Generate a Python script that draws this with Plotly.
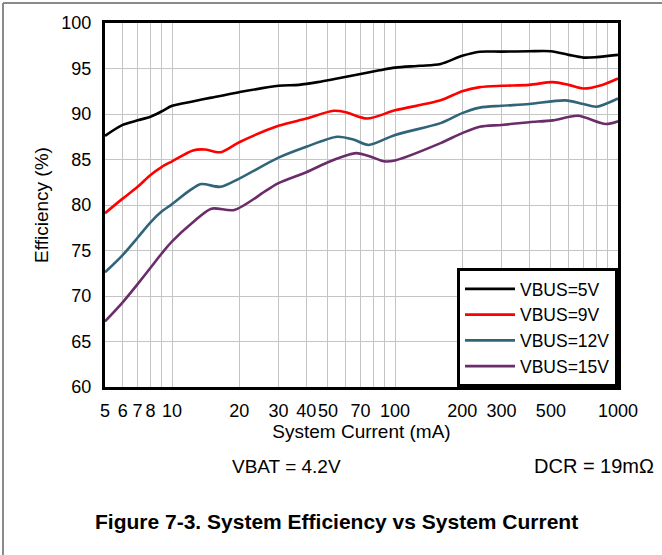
import plotly.graph_objects as go

# ---- data ----
x_5v = [5, 6, 7, 8, 9, 10, 12.5, 15, 20, 30, 37, 45, 55, 70, 85, 100, 130, 160, 200, 240, 300, 400, 500, 600, 700, 800, 1000]
eff_5v = [87.6, 88.8, 89.3, 89.7, 90.3, 90.9, 91.4, 91.8, 92.4, 93.1, 93.2, 93.5, 93.9, 94.4, 94.8, 95.1, 95.3, 95.5, 96.4, 96.85, 96.85, 96.9, 96.9, 96.5, 96.2, 96.25, 96.5]

x_9v = [5, 6, 7, 8, 9, 10, 12.4, 14, 16.5, 20, 30, 40, 53, 60, 75, 100, 160, 200, 240, 300, 400, 510, 600, 700, 850, 1000]
eff_9v = [79.1, 80.7, 82.0, 83.3, 84.2, 84.8, 86.0, 86.1, 85.8, 86.9, 88.7, 89.5, 90.35, 90.2, 89.5, 90.4, 91.5, 92.5, 92.95, 93.1, 93.2, 93.5, 93.2, 92.8, 93.2, 93.9]

x_12v = [5, 6, 7, 8, 9, 10, 12, 13.5, 16.5, 20, 30, 40, 55, 65, 76, 100, 160, 200, 240, 300, 400, 580, 700, 800, 1000]
eff_12v = [72.6, 74.5, 76.4, 78.1, 79.3, 80.1, 81.6, 82.3, 82.0, 82.9, 85.2, 86.4, 87.5, 87.2, 86.6, 87.7, 89.0, 90.1, 90.7, 90.9, 91.1, 91.5, 91.1, 90.8, 91.7]

x_15v = [5, 6, 7, 8, 9, 10, 12.4, 15, 19, 26.5, 30, 40, 50, 58, 67, 78, 89, 100, 160, 200, 240, 300, 400, 510, 660, 880, 1000]
eff_15v = [67.2, 69.3, 71.3, 73.1, 74.7, 76.0, 78.1, 79.6, 79.45, 81.6, 82.4, 83.6, 84.7, 85.3, 85.7, 85.3, 84.8, 84.9, 86.8, 87.9, 88.6, 88.8, 89.1, 89.3, 89.8, 88.9, 89.2]

series_names = ["VBUS=5V", "VBUS=9V", "VBUS=12V", "VBUS=15V"]
series_colors = ["#000000", "#ff0000", "#2f6479", "#6b2c6b"]

x_tickvals = [5, 6, 7, 8, 9, 10, 20, 30, 40, 50, 60, 70, 80, 90, 100,
              200, 300, 400, 500, 600, 700, 800, 900, 1000]
x_ticktext = ["5", "6", "7", "8", "", "10", "20", "30", "40", "50", "", "70", "", "", "100",
              "200", "300", "", "500", "", "", "", "", "1000"]
y_tickvals = [60, 65, 70, 75, 80, 85, 90, 95, 100]

FONT = "Liberation Sans, Arial, sans-serif"

fig = go.Figure()
for xs, ys, name, col in zip([x_5v, x_9v, x_12v, x_15v],
                             [eff_5v, eff_9v, eff_12v, eff_15v],
                             series_names, series_colors):
    fig.add_trace(go.Scatter(x=xs, y=ys, name=name, mode="lines",
                             line=dict(color=col, width=2.6, shape="spline", smoothing=0.8)))

# plot area in pixels: x 105..618, y 23..387
L, R, T, B = 105, 618, 23, 387
W, H = 662, 555

def px(xp):
    return (xp - L) / (R - L)

def py(yp):
    return (B - yp) / (B - T)

fig.update_layout(
    width=W, height=H,
    margin=dict(l=L, r=W - R, t=T, b=H - B, pad=0, autoexpand=False),
    paper_bgcolor="white", plot_bgcolor="white",
    font=dict(family=FONT, size=18, color="#000000"),
    showlegend=True,
    legend=dict(x=1, xanchor="right", y=0, yanchor="bottom",
                bgcolor="white", bordercolor="#000000", borderwidth=3,
                font=dict(size=17.5), tracegroupgap=0, itemwidth=50),
    xaxis=dict(type="log", range=[0.69897, 3.0], automargin=False, tickangle=0,
               tickmode="array", tickvals=x_tickvals, ticktext=x_ticktext,
               showgrid=True, gridcolor="#c4c4c4", gridwidth=1,
               showline=True, linecolor="#000000", linewidth=3, mirror=True,
               ticks="", ticklabelstandoff=5, zeroline=False,
               title=dict(text="System Current (mA)", standoff=5, font=dict(size=19))),
    yaxis=dict(range=[60, 100], tickmode="array", tickvals=y_tickvals, automargin=False,
               showgrid=True, gridcolor="#c4c4c4", gridwidth=1,
               showline=True, linecolor="#000000", linewidth=3, mirror=True,
               ticks="", ticklabelstandoff=7, zeroline=False,
               title=dict(text="Efficiency (%)", standoff=8, font=dict(size=19))),
)

# outer frame lines (top and left)
fig.add_shape(type="line", xref="paper", yref="paper",
              x0=px(3), x1=px(662), y0=py(3), y1=py(3),
              line=dict(color="#8a8a8a", width=2), layer="above")
fig.add_shape(type="line", xref="paper", yref="paper",
              x0=px(3), x1=px(3), y0=py(3), y1=py(555),
              line=dict(color="#8a8a8a", width=2), layer="above")

fig.add_annotation(xref="paper", yref="paper", x=px(286), y=py(466),
                   text="VBAT = 4.2V", showarrow=False, xanchor="center", yanchor="middle",
                   font=dict(size=19, family=FONT))
fig.add_annotation(xref="paper", yref="paper", x=px(656), y=py(466),
                   text="DCR = 19mΩ", showarrow=False, xanchor="right", yanchor="middle",
                   font=dict(size=20, family=FONT))
fig.add_annotation(xref="paper", yref="paper", x=px(336), y=py(521),
                   text="<b>Figure 7-3. System Efficiency vs System Current</b>", showarrow=False,
                   xanchor="center", yanchor="middle",
                   font=dict(size=21, family=FONT))

# remove the default 8px body margin of the page so the figure sits at the window origin
fig.write_html("out.html", config={"displayModeBar": False},
               post_script="document.body.style.margin='0px';")
